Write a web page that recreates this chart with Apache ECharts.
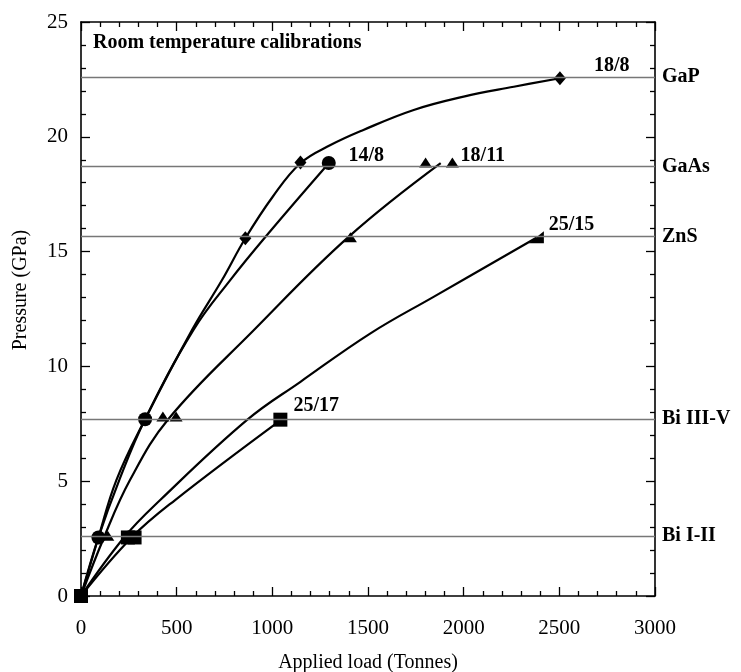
<!DOCTYPE html>
<html>
<head>
<meta charset="utf-8">
<script src="https://cdn.jsdelivr.net/npm/echarts@6/dist/echarts.min.js"></script>
<style>
html, body { margin: 0; padding: 0; background: #fff; }
#chart { width: 741px; height: 672px; }
</style>
</head>
<body>
<div id="chart"></div>
<script>
// fitted calibration curves (load in tonnes, pressure in GPa)
const curve18_8X = [0, 91, 185, 335, 580, 737, 859, 1002, 1147, 1304, 1476, 1739, 2000, 2262, 2503];
const curve18_8Y = [0, 2.55, 5.05, 7.7, 11.58, 13.76, 15.58, 17.39, 18.85, 19.64, 20.3, 21.17, 21.75, 22.18, 22.55];
const curve14_8X = [0, 91, 200, 335, 587, 780, 980, 1295];
const curve14_8Y = [0, 2.55, 5.05, 7.7, 11.58, 13.76, 15.8, 18.85];
const curve18_11X = [0, 120, 256, 456, 900, 1400, 1880];
const curve18_11Y = [0, 2.55, 5.05, 7.7, 11.55, 15.65, 18.85];
const curve25_15X = [0, 225, 414, 868, 1147, 1513, 1845, 2380];
const curve25_15Y = [0, 2.55, 4.18, 7.67, 9.33, 11.44, 13.04, 15.6];
const curve25_17X = [0, 265, 492, 1042];
const curve25_17Y = [0, 2.55, 4.18, 7.65];

// measured points
const diamondX = [859, 1147, 2503];
const diamondY = [15.58, 18.88, 22.55];
const circleX = [91, 335, 1295];
const circleY = [2.55, 7.7, 18.86];
const triangleX = [140, 428, 497, 1408, 1801, 1941];
const triangleY = [2.62, 7.82, 7.82, 15.62, 18.88, 18.88];
const squareX = [0, 245, 280, 1042];
const squareY = [0, 2.55, 2.55, 7.68];
const wedgeX = [2380];
const wedgeY = [15.62];

// calibrant transitions
const transNames = ['GaP', 'GaAs', 'ZnS', 'Bi III-V', 'Bi I-II'];
const transPressures = [22.6, 18.7, 15.65, 7.7, 2.6];

// cell assembly labels
const cellNames = ['18/8', '14/8', '18/11', '25/15', '25/17'];
const cellLabelX = [2681, 1398, 1984, 2445, 1110];
const cellLabelY = [23.08, 19.19, 19.19, 16.18, 8.3];

const serif = '"Liberation Serif", "DejaVu Serif", serif';

function pairs(xs, ys) {
    return xs.map((x, i) => [x, ys[i]]);
}

var myChart = echarts.init(document.getElementById('chart'));

function curve(name, xs, ys) {
    return {
        name: name,
        type: 'line',
        data: pairs(xs, ys),
        smooth: 0.4,
        showSymbol: false,
        lineStyle: { color: '#000', width: 2.2 },
        z: 3,
        silent: true
    };
}

function marks(symbol, size, xs, ys) {
    return {
        type: 'scatter',
        symbol: symbol,
        symbolSize: size,
        data: pairs(xs, ys),
        itemStyle: { color: '#000', opacity: 1 },
        z: 4,
        silent: true
    };
}

var tickAxis = {
    type: 'value',
    axisLine: { show: true, onZero: false, lineStyle: { color: '#000', width: 1.6 } },
    axisTick: { show: true, inside: true, length: 9, lineStyle: { color: '#000', width: 1.3 } },
    minorTick: { show: true, splitNumber: 5, length: 5, lineStyle: { color: '#000', width: 1.3 } },
    splitLine: { show: false },
    minorSplitLine: { show: false }
};

var option = {
    animation: false,
    backgroundColor: '#fff',
    title: {
        text: 'Room temperature calibrations',
        left: 88,
        top: 28,
        textStyle: { fontFamily: serif, fontWeight: 'bold', fontSize: 20, color: '#000' }
    },
    grid: { left: 81, right: 86, top: 22, bottom: 76, outerBoundsMode: 'none', containLabel: false },
    xAxis: [
        Object.assign({}, tickAxis, {
            position: 'bottom',
            min: 0, max: 3000, interval: 500,
            axisLabel: { fontFamily: serif, fontSize: 21, color: '#000', margin: 22, formatter: (v) => String(v) },
            name: 'Applied load (Tonnes)',
            nameLocation: 'middle',
            nameGap: 57,
            nameTextStyle: { fontFamily: serif, fontSize: 20, color: '#000' }
        }),
        Object.assign({}, tickAxis, {
            position: 'top',
            min: 0, max: 3000, interval: 500,
            axisLabel: { show: false }
        })
    ],
    yAxis: [
        Object.assign({}, tickAxis, {
            position: 'left',
            min: 0, max: 25, interval: 5,
            axisLabel: { fontFamily: serif, fontSize: 21, color: '#000', margin: 13, formatter: (v) => String(v) },
            name: 'Pressure (GPa)',
            nameLocation: 'middle',
            nameGap: 50,
            nameTextStyle: { fontFamily: serif, fontSize: 20, color: '#000', padding: [0, 0, 0, 38] }
        }),
        Object.assign({}, tickAxis, {
            position: 'right',
            min: 0, max: 25, interval: 5,
            axisLabel: { show: false }
        })
    ],
    series: [
        {
            // transition pressures
            type: 'line',
            data: [],
            z: 1,
            markLine: {
                silent: true,
                symbol: 'none',
                animation: false,
                lineStyle: { color: '#777', width: 1.4, type: 'solid' },
                label: {
                    show: true,
                    position: 'end',
                    distance: 7,
                    fontFamily: serif,
                    fontWeight: 'bold',
                    fontSize: 20,
                    color: '#000',
                    formatter: (p) => p.name
                },
                data: transNames.map((n, i) => ({ name: n, yAxis: transPressures[i] }))
            }
        },
        curve('18/8', curve18_8X, curve18_8Y),
        curve('14/8', curve14_8X, curve14_8Y),
        curve('18/11', curve18_11X, curve18_11Y),
        curve('25/15', curve25_15X, curve25_15Y),
        curve('25/17', curve25_17X, curve25_17Y),
        marks('diamond', [12, 14], diamondX, diamondY),
        marks('circle', 14, circleX, circleY),
        marks('triangle', [13, 10], triangleX, triangleY),
        marks('rect', 14, squareX, squareY),
        marks('path://M10,0 L10,10 L0,10 Z', [15, 12], wedgeX, wedgeY),
        {
            // cell assembly labels
            type: 'scatter',
            symbolSize: 0,
            itemStyle: { opacity: 1 },
            data: pairs(cellLabelX, cellLabelY).map((d, i) => ({ value: d, name: cellNames[i] })),
            label: {
                show: true,
                position: 'right',
                distance: 0,
                opacity: 1,
                formatter: (p) => p.name,
                fontFamily: serif,
                fontWeight: 'bold',
                fontSize: 20,
                color: '#000'
            },
            z: 5,
            silent: true
        }
    ]
};
myChart.setOption(option);
</script>
</body>
</html>
